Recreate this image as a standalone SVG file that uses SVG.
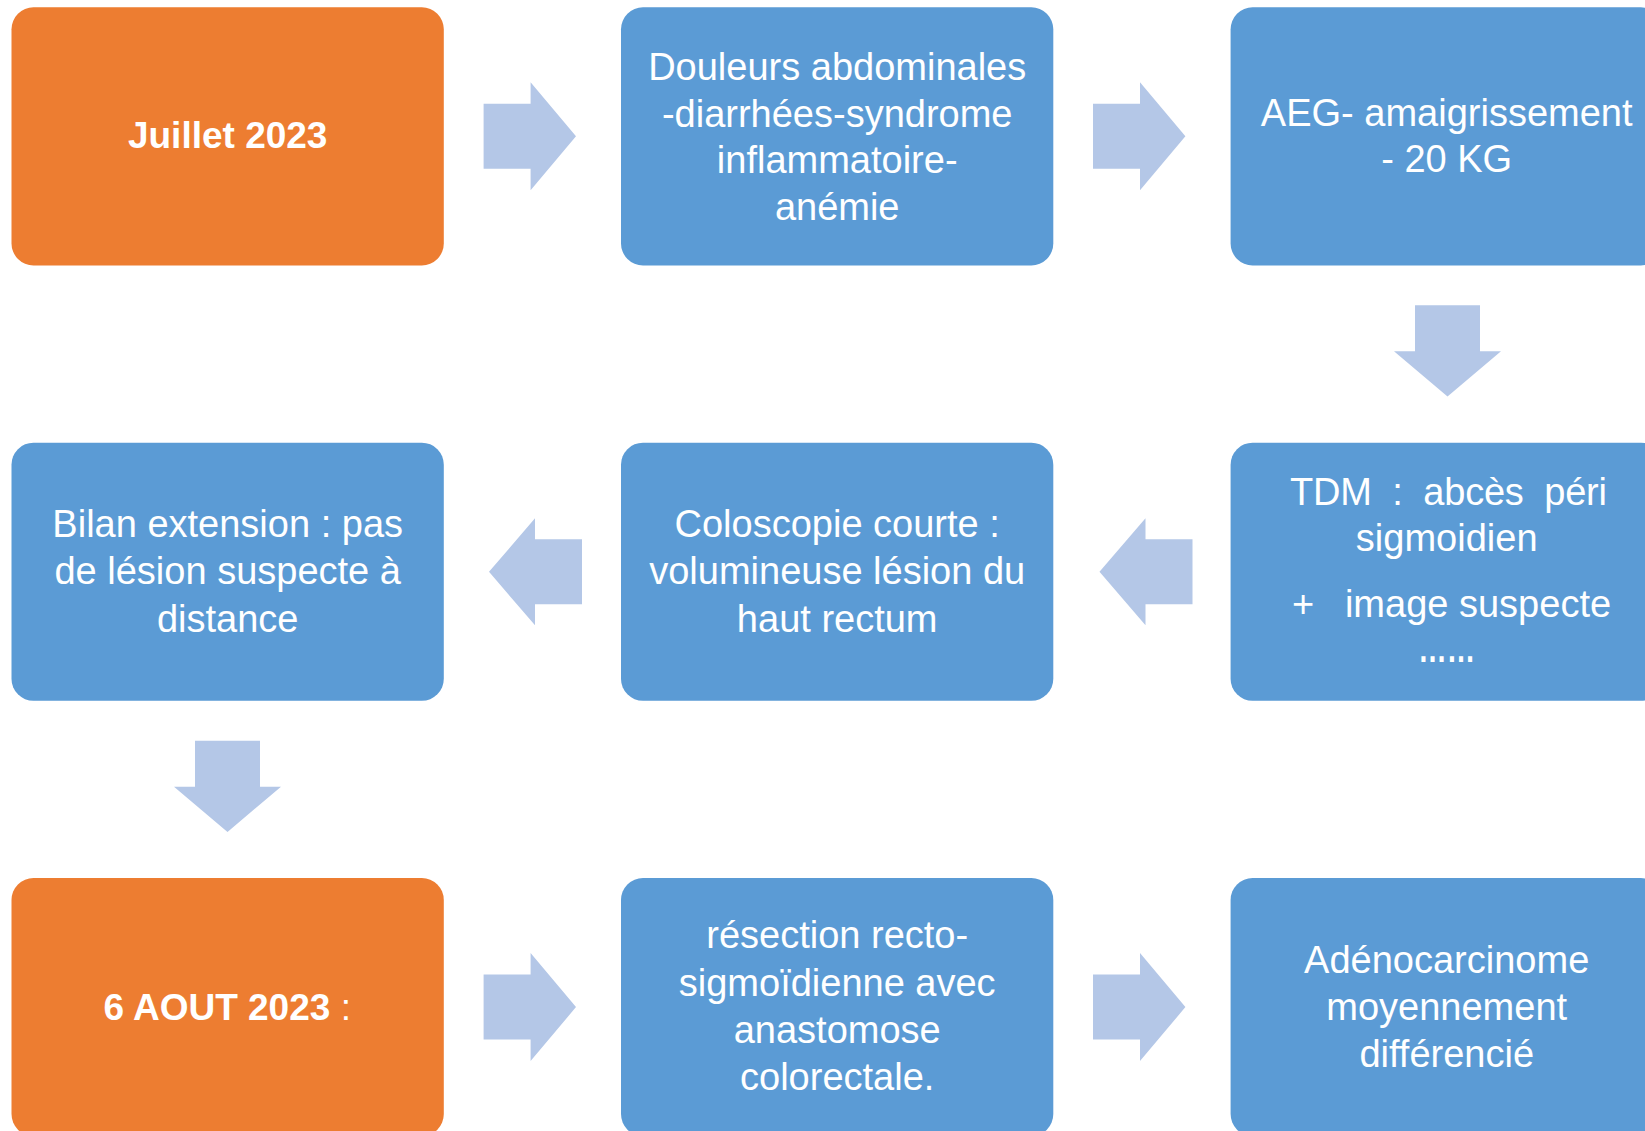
<svg xmlns="http://www.w3.org/2000/svg" width="1645" height="1131" viewBox="0 0 1645 1131">
<defs>
<style>
.box{stroke:none}
.orange{fill:#ED7D31}
.blue{fill:#5B9BD5}
.arr{fill:#B4C7E7}
text{font-family:"Liberation Sans",Arial,sans-serif;font-size:38px;fill:#FFFFFF;text-anchor:middle}
.b{font-weight:bold;font-size:37px}
</style>
<path id="rarrow" d="M0,-32.5 H47 V-54 L92.4,0 L47,54 V32.5 H0 Z"/>
<path id="larrow" d="M0,0 L46,-53.5 V-32.5 H93 V32.5 H46 V53.5 Z"/>
<path id="darrow" d="M-32.5,0 H32.5 V46 H53.5 L0,91.3 L-53.5,46 H-32.5 Z"/>
</defs>
<rect width="1645" height="1131" fill="#FFFFFF"/>
<g id="connectors" class="arr">
<use href="#rarrow" transform="translate(483.6,136.3)"/>
<use href="#rarrow" transform="translate(1093,136.3)"/>
<use href="#darrow" transform="translate(1447.5,305.3)"/>
<use href="#larrow" transform="translate(1099.5,571.8)"/>
<use href="#larrow" transform="translate(489,571.8)"/>
<use href="#darrow" transform="translate(227.5,740.7)"/>
<use href="#rarrow" transform="translate(483.6,1007.1)"/>
<use href="#rarrow" transform="translate(1093,1007.1)"/>
</g>
<g id="n1">
<rect class="box orange" x="11.5" y="7.3" width="432.3" height="258.1" rx="22"/>
<text class="b" x="227.7" y="147.5">Juillet 2023</text>
</g>
<g id="n2">
<rect class="box blue" x="621" y="7.3" width="432.3" height="258.1" rx="22"/>
<text x="837.2" y="79.8">Douleurs abdominales</text>
<text x="837.2" y="126.5">-diarrhées-syndrome</text>
<text x="837.2" y="173.2">inflammatoire-</text>
<text x="837.2" y="219.9">anémie</text>
</g>
<g id="n3">
<rect class="box blue" x="1230.6" y="7.3" width="432.3" height="258.1" rx="22"/>
<text x="1446.7" y="125.5">AEG- amaigrissement</text>
<text x="1446.7" y="172.2">- 20 KG</text>
</g>
<g id="n4">
<rect class="box blue" x="1230.6" y="442.7" width="432.3" height="258.1" rx="22"/>
<text x="1448.5" y="505" textLength="317" lengthAdjust="spacing" xml:space="preserve">TDM  :  abcès  péri</text>
<text x="1446.7" y="550.5">sigmoidien</text>
<text x="1303" y="617">+</text>
<text x="1478" y="617">image suspecte</text>
<text x="1446.7" y="662" font-weight="bold" textLength="57" lengthAdjust="spacingAndGlyphs">……</text>
</g>
<g id="n5">
<rect class="box blue" x="621" y="442.7" width="432.3" height="258.1" rx="22"/>
<text x="837.2" y="537.1">Coloscopie courte :</text>
<text x="837.2" y="584.3">volumineuse lésion du</text>
<text x="837.2" y="631.5">haut rectum</text>
</g>
<g id="n6">
<rect class="box blue" x="11.5" y="442.7" width="432.3" height="258.1" rx="22"/>
<text x="227.7" y="537.1">Bilan extension : pas</text>
<text x="227.7" y="584.3">de lésion suspecte à</text>
<text x="227.7" y="631.5">distance</text>
</g>
<g id="n7">
<rect class="box orange" x="11.5" y="878" width="432.3" height="258.1" rx="22"/>
<text class="b" x="227.2" y="1020.3">6 AOUT 2023 <tspan font-weight="normal">:</tspan></text>
</g>
<g id="n8">
<rect class="box blue" x="621" y="878" width="432.3" height="258.1" rx="22"/>
<text x="837.2" y="948.3">résection recto-</text>
<text x="837.2" y="995.6">sigmoïdienne avec</text>
<text x="837.2" y="1042.8">anastomose</text>
<text x="837.2" y="1090">colorectale.</text>
</g>
<g id="n9">
<rect class="box blue" x="1230.6" y="878" width="432.3" height="258.1" rx="22"/>
<text x="1446.7" y="972.5">Adénocarcinome</text>
<text x="1446.7" y="1019.6">moyennement</text>
<text x="1446.7" y="1066.8">différencié</text>
</g>
</svg>
